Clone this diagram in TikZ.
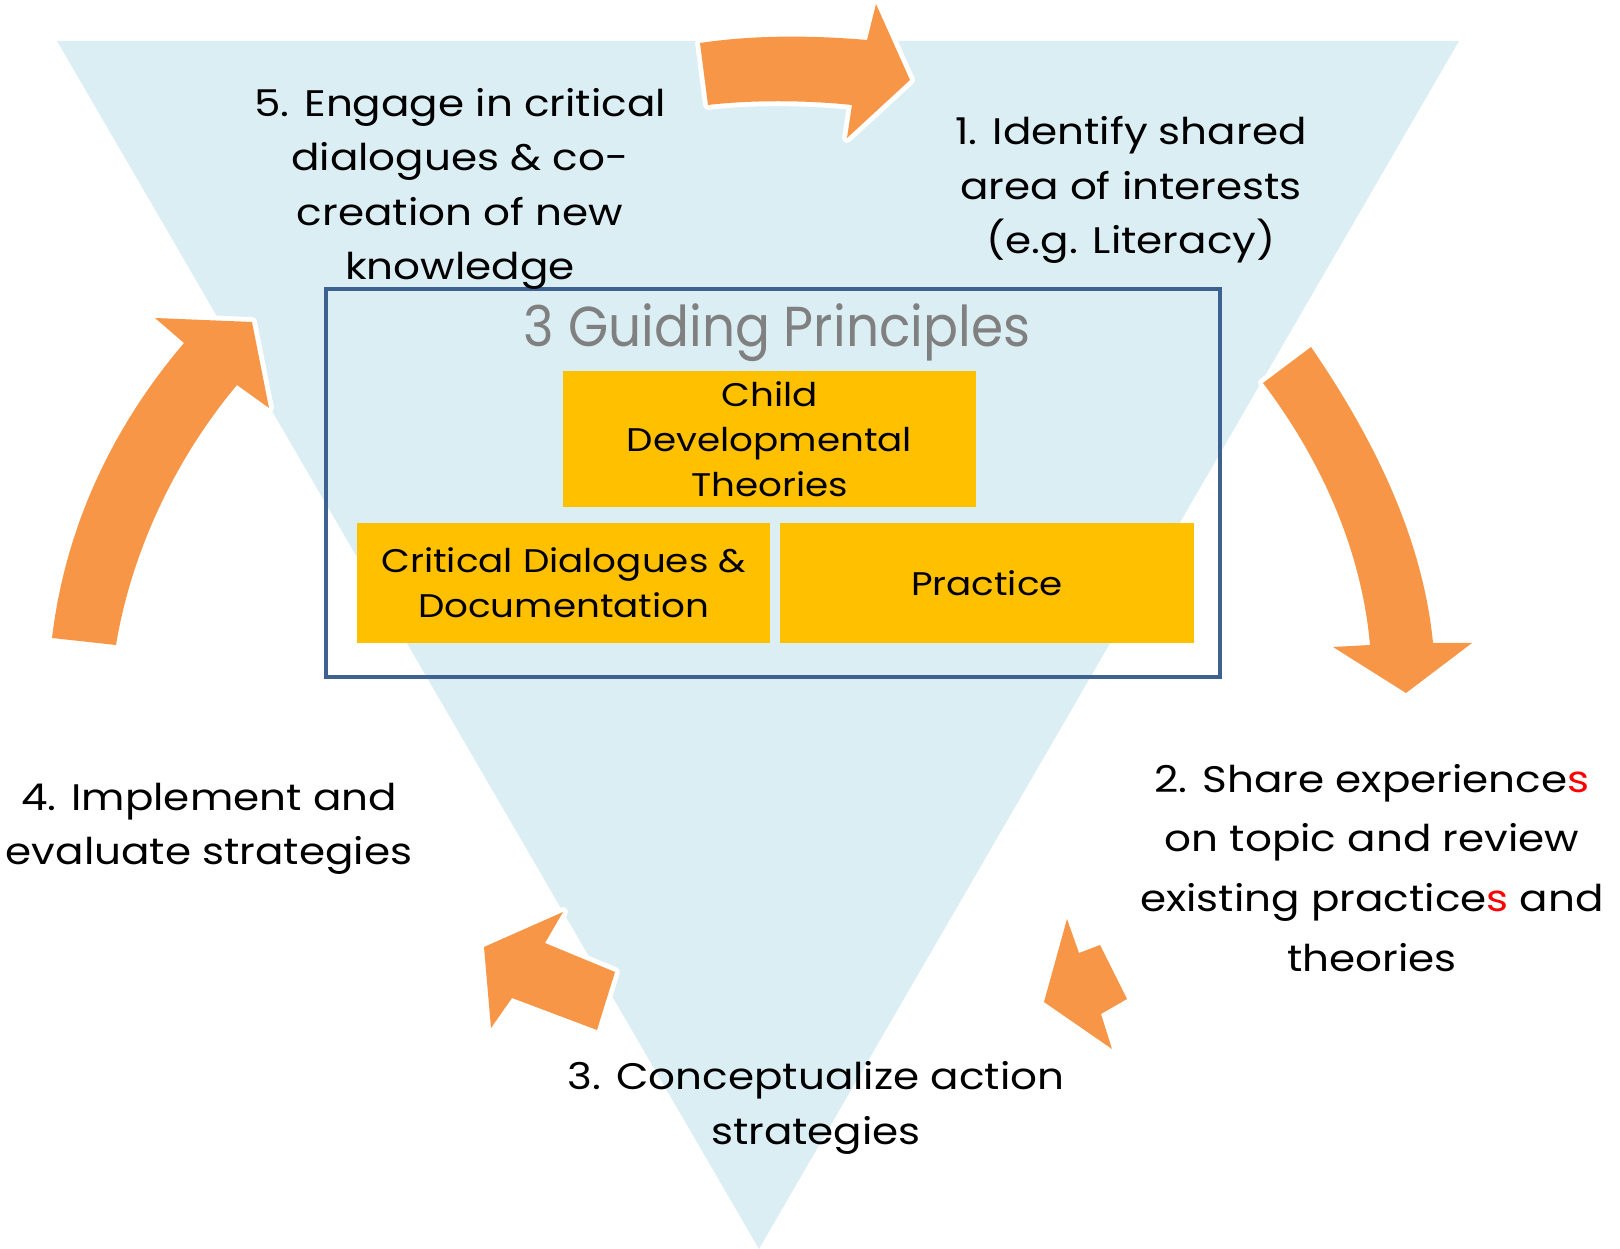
\documentclass[tikz,border=0pt]{standalone}
\usepackage{fontspec}
\setmainfont[FakeStretch=1.14]{Poppins}
\newfontfamily\titlefont[FakeStretch=0.92]{Poppins}
\definecolor{paleblue}{HTML}{DBEEF4}
\definecolor{bendorange}{HTML}{F79646}
\definecolor{gold}{HTML}{FFC000}
\definecolor{framecol}{HTML}{3D6190}
\definecolor{titlegray}{HTML}{808080}
\begin{document}
\begin{tikzpicture}[x=0.01cm,y=-0.01cm,
            bentarrow/.style={fill=bendorange,preaction={draw=white,line width=2.8pt,line join=round}},
            stage/.style={align=center,inner sep=0pt,font=\fontsize{10.5}{15.4}\selectfont},
            principle/.style={fill=gold,align=center,inner sep=0pt,font=\fontsize{9.3}{12.8}\selectfont}]
            \useasboundingbox (0,0) rectangle (1620,1249);
            \fill[paleblue] (57,41) -- (1459,41) -- (759,1249) -- cycle;
            \path[bentarrow] (700,43) .. controls (760,34) and (820,36) .. (867,40) -- (876,4) -- (910,80) -- (847,138) -- (852,105) .. controls (805,100) and (750,100) .. (708,105) -- cycle;
            \path[bentarrow] (1311,347) .. controls (1375,440) and (1423,540) .. (1433,643) -- (1472,643) -- (1406,693) -- (1333,647) -- (1370,645) .. controls (1362,555) and (1325,465) .. (1263,383) -- cycle;
            \path[bentarrow] (1100,945) -- (1079,953) -- (1067,919) -- (1044,1002) -- (1112,1049) -- (1101,1014) -- (1127,999) -- cycle;
            \path[bentarrow] (615,972) -- (545,943) -- (563,912) -- (484,947) -- (491,1028) -- (512,998) -- (597,1030) -- cycle;
            \path[bentarrow] (52,638) .. controls (65,530) and (110,430) .. (184,343) -- (155,318) -- (252,322) -- (269,408) -- (237,385) .. controls (170,465) and (130,560) .. (116,645) -- cycle;
            \draw[framecol,line width=1.3pt] (326,289) rectangle (1220,677);
            \node[text=titlegray,font=\titlefont\fontsize{16}{18}\selectfont,inner sep=0pt] (title) at (777,333) {3 Guiding Principles};
            \node[principle,minimum width=4.13cm,minimum height=1.35cm] (child) at (769.5,439) {Child\\Developmental\\Theories};
            \node[principle,minimum width=4.125cm,minimum height=1.19cm] (dialogue) at (563.75,583) {Critical Dialogues \&\\Documentation};
            \node[principle,minimum width=4.14cm,minimum height=1.19cm] (practice) at (987,583) {Practice};
            \node[stage] (engage) at (460,189) {5. Engage in critical\\dialogues \& co-\\creation of new\\knowledge};
            \node[stage] (identify) at (1131,190) {1. Identify shared\\area of interests\\(e.g. Literacy)};
            \node[stage,font=\fontsize{10.5}{17}\selectfont] (share) at (1372,868) {2. Share experience{\color{red}s}\\on topic and review\\existing practice{\color{red}s} and\\theories};
            \node[stage] (conceptualize) at (816,1108) {3. Conceptualize action\\strategies};
            \node[stage] (implement) at (209,829) {4. Implement and\\evaluate strategies};
        \end{tikzpicture}
\end{document}
